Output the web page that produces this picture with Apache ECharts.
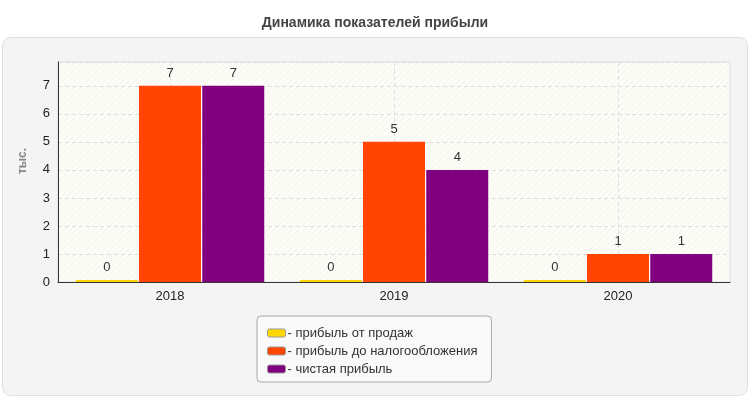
<!DOCTYPE html>
<html>
<head>
<meta charset="utf-8">
<script src="https://cdn.jsdelivr.net/npm/echarts@6/dist/echarts.min.js"></script>
<style>
  html, body { margin: 0; padding: 0; background: #fff; }
  #chart1 { width: 750px; height: 400px; }
</style>
</head>
<body>
<div id="chart1"></div>
<script>
var years = ["2018", "2019", "2020"];
var salesProfit = [0, 0, 0];
var pretaxProfit = [7, 5, 1];
var netProfit = [7, 4, 1];
var seriesNames = ["прибыль от продаж", "прибыль до налогообложения", "чистая прибыль"];
var seriesColors = ["#FFD700", "#FF4500", "#800080"];

// faint diagonal hatch for the plot background
function hatchPattern() {
  var c = document.createElement("canvas");
  c.width = 6;
  c.height = 6;
  var ctx = c.getContext("2d");
  ctx.fillStyle = "#fdfdf8";
  ctx.fillRect(0, 0, 6, 6);
  ctx.strokeStyle = "#f3f3ee";
  ctx.lineWidth = 1;
  ctx.beginPath();
  ctx.moveTo(-1, 7);
  ctx.lineTo(7, -1);
  ctx.stroke();
  return { image: c, repeat: "repeat" };
}

function makeBar(name, data, color) {
  return {
    name: name,
    type: "bar",
    data: data,
    barWidth: 62,
    barGap: "2%",
    barMinHeight: 2,
    itemStyle: { color: color },
    label: {
      show: true,
      position: "top",
      distance: 6,
      fontSize: 13,
      color: "#333",
      fontFamily: "Liberation Sans, Arial, sans-serif",
    },
  };
}

var chartDom = document.getElementById("chart1");
var myChart = echarts.init(chartDom);
var option = {
  animation: false,
  textStyle: { fontFamily: "Liberation Sans, Arial, sans-serif" },
  graphic: [
    {
      type: "rect",
      z: -10,
      shape: { x: 2.5, y: 37.5, width: 745, height: 358, r: 8 },
      style: { fill: "#f4f4f4", stroke: "#e0e0e0", lineWidth: 1 },
    },
  ],
  title: {
    text: "Динамика показателей прибыли",
    left: "center",
    top: 11,
    textStyle: { fontSize: 14, fontWeight: "bold", color: "#444" },
  },
  legend: {
    orient: "vertical",
    left: 257,
    top: 316,
    padding: [10, 14, 6, 10],
    itemGap: 4,
    itemWidth: 18,
    itemHeight: 8,
    icon: "roundRect",
    backgroundColor: "#f9f9f9",
    borderColor: "#aaa",
    borderWidth: 1,
    borderRadius: 4,
    itemStyle: { borderColor: "#999", borderWidth: 1 },
    formatter: "- {name}",
    textStyle: { fontSize: 13, color: "#333", lineHeight: 14, padding: [0, 0, 0, -3] },
    data: seriesNames,
  },
  grid: {
    left: 58,
    right: 20,
    top: 62,
    bottom: 118,
    show: true,
    backgroundColor: hatchPattern(),
    borderColor: "#dcdcdc",
    borderWidth: 1,
  },
  xAxis: {
    type: "category",
    data: years,
    axisLine: { lineStyle: { color: "#333" } },
    axisTick: { alignWithLabel: true, length: 5, lineStyle: { color: "#333" } },
    axisLabel: { fontSize: 13, color: "#222", margin: 8 },
    splitLine: { show: true, alignWithLabel: true, lineStyle: { color: "#dedede", type: [4, 3] } },
  },
  yAxis: {
    type: "value",
    min: 0,
    max: 7.85,
    interval: 1,
    name: "тыс.",
    nameLocation: "middle",
    nameRotate: 90,
    nameGap: 29,
    nameTextStyle: { fontSize: 12, fontWeight: "bold", color: "#888", padding: [0, 0, 0, 22] },
    axisLine: { show: true, lineStyle: { color: "#333" } },
    axisTick: { show: false },
    axisLabel: {
      fontSize: 13,
      color: "#222",
      margin: 8,
      formatter: function (v) {
        return Number.isInteger(v) ? v : "";
      },
    },
    splitLine: { show: true, lineStyle: { color: "#dedede", type: [4, 3] } },
  },
  series: [
    makeBar(seriesNames[0], salesProfit, seriesColors[0]),
    makeBar(seriesNames[1], pretaxProfit, seriesColors[1]),
    makeBar(seriesNames[2], netProfit, seriesColors[2]),
  ],
};
option && myChart.setOption(option);
</script>
</body>
</html>
